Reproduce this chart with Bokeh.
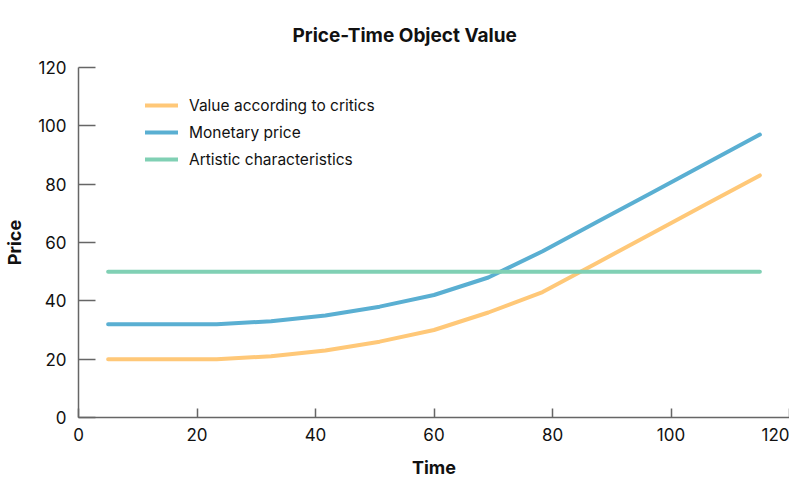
from bokeh.plotting import figure
from bokeh.models import Range1d, Legend, LegendItem, FixedTicker
from bokeh.embed import file_html
from bokeh.resources import INLINE

time = [5, 14.17, 23.33, 32.5, 41.67, 50.83, 60, 69.17, 78.33, 87.5, 96.67, 105.83, 115]
critics_value = [20, 20, 20, 21, 23, 26, 30, 36, 43, 53, 63, 73, 83]
monetary_price = [32, 32, 32, 33, 35, 38, 42, 48, 57, 67, 77, 87, 97]
artistic = [50, 50, 50, 50, 50, 50, 50, 50, 50, 50, 50, 50, 50]
series_names = ["Value according to critics", "Monetary price", "Artistic characteristics"]
colors = ["#ffc878", "#5aafd2", "#80d0b4"]
x_ticks = [0, 20, 40, 60, 80, 100, 120]
y_ticks = [0, 20, 40, 60, 80, 100, 120]
title_text = "Price-Time Object Value"
x_label = "Time"
y_label = "Price"

FONT = "Inter"

p = figure(width=789, height=482, output_backend="svg", toolbar_location=None,
           x_range=Range1d(0, 120), y_range=Range1d(0, 120),
           min_border_left=78, min_border_right=0, min_border_top=67, min_border_bottom=65)

p.title.text = title_text
p.title.align = "left"
p.title.text_font = FONT
p.title.text_font_size = "19px"
p.title.text_font_style = "bold"
p.title.text_color = "#111111"
p.title.offset = 214
p.title.standoff = 41

p.grid.visible = False
p.outline_line_color = None

for ax in (p.xaxis[0], p.yaxis[0]):
    ax.axis_line_color = "#666666"
    ax.axis_line_width = 1.5
    ax.major_tick_line_color = "#666666"
    ax.major_tick_line_width = 1.5
    ax.minor_tick_line_color = None
    ax.major_tick_out = 0
    ax.major_label_text_font = FONT
    ax.major_label_text_font_size = "17px"
    ax.major_label_text_color = "#111111"
    ax.axis_label_text_font = FONT
    ax.axis_label_text_font_size = "18px"
    ax.axis_label_text_font_style = "bold"
    ax.axis_label_text_color = "#111111"

p.xaxis.ticker = FixedTicker(ticks=x_ticks)
p.yaxis.ticker = FixedTicker(ticks=y_ticks)
p.xaxis.major_tick_in = 9
p.yaxis.major_tick_in = 17
p.xaxis.major_label_standoff = 10
p.yaxis.major_label_standoff = 12
p.xaxis.axis_label = x_label
p.yaxis.axis_label = y_label
p.xaxis.axis_label_standoff = 13
p.yaxis.axis_label_standoff = 10

series = [critics_value, monetary_price, artistic]
items = []
for name, ys, c in zip(series_names, series, colors):
    r = p.line(time, ys, line_color=c, line_width=4, line_cap="round", line_join="round")
    items.append(LegendItem(label=name, renderers=[r]))

legend = Legend(items=items, location=(67, 248), padding=0, margin=0,
                spacing=7, glyph_width=33, glyph_height=20, label_height=20,
                label_standoff=11, border_line_color=None, background_fill_alpha=0,
                label_text_font=FONT, label_text_font_size="15.5px", label_text_color="#111111")
p.add_layout(legend)

open("out.html", "w").write(file_html(p, INLINE))
